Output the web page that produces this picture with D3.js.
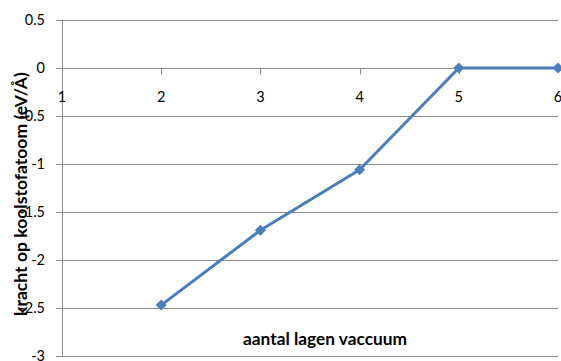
<!DOCTYPE html>
<html>
<head>
<meta charset="utf-8">
<script src="https://cdn.jsdelivr.net/npm/d3@7"></script>
<style>
  html, body { margin: 0; padding: 0; background: #fff; }
  svg { display: block; }
  text { font-family: Lato, "Open Sans", sans-serif; fill: #000; }
</style>
</head>
<body>
<svg id="chart" width="561" height="361"></svg>
<script>
// Number of vacuum layers and force per carbon atom
const layers = [2, 3, 4, 5, 6];
const force = [-2.47, -1.69, -1.06, 0, 0];
const xTicks = [1, 2, 3, 4, 5, 6];
const yTicks = [0.5, 0, -0.5, -1, -1.5, -2, -2.5, -3];
const yTickLabels = ["0.5", "0", "-0.5", "-1", "-1.5", "-2", "-2.5", "-3"];

(function drawChart() {
  const svg = d3.select("#chart");
  const plotLeft = 62, plotRight = 558, plotTop = 20, plotBottom = 356;

  const x = d3.scaleLinear().domain([1, 6]).range([plotLeft, plotRight]);
  const y = d3.scaleLinear().domain([-3, 0.5]).range([plotBottom, plotTop]);

  const grid = "#8c8c8c";
  const labelColor = "#1a1a1a";

  // Size a text element so that it spans the given width
  function fitWidth(sel, width) {
    const node = sel.node();
    const base = parseFloat(sel.attr("font-size"));
    const len = node.getComputedTextLength();
    if (len > 0) sel.attr("font-size", base * width / len);
  }

  // Horizontal gridlines with small outer ticks
  svg.append("g")
    .selectAll("line")
    .data(yTicks)
    .join("line")
    .attr("x1", plotLeft - 6).attr("x2", plotRight)
    .attr("y1", d => Math.round(y(d)) + 0.5).attr("y2", d => Math.round(y(d)) + 0.5)
    .attr("stroke", grid).attr("stroke-width", 1);

  // Vertical value axis
  svg.append("line")
    .attr("x1", plotLeft + 0.5).attr("x2", plotLeft + 0.5)
    .attr("y1", plotTop).attr("y2", plotBottom)
    .attr("stroke", grid);

  // Value axis labels
  svg.append("g")
    .selectAll("text")
    .data(yTicks)
    .join("text")
    .attr("x", plotLeft - 17)
    .attr("y", d => y(d))
    .attr("dy", "0.36em")
    .attr("text-anchor", "end")
    .attr("font-size", 14.5)
    .attr("fill", labelColor)
    .text((d, i) => yTickLabels[i]);

  // Category axis crosses at zero, with ticks hanging below
  const y0 = Math.round(y(0)) + 0.5;
  svg.append("g")
    .selectAll("line")
    .data(xTicks.filter(d => d > 1 && d < 6))
    .join("line")
    .attr("x1", d => Math.round(x(d)) + 0.5).attr("x2", d => Math.round(x(d)) + 0.5)
    .attr("y1", y0).attr("y2", y0 + 6)
    .attr("stroke", grid);

  svg.append("g")
    .selectAll("text")
    .data(xTicks)
    .join("text")
    .attr("x", d => x(d))
    .attr("y", y0 + 33)
    .attr("text-anchor", "middle")
    .attr("font-size", 14.5)
    .attr("fill", labelColor)
    .text(d => d);

  // Series line and diamond markers
  const pts = layers.map((l, i) => [l, force[i]]);
  svg.append("path")
    .datum(pts)
    .attr("fill", "none")
    .attr("stroke", "#4a7ebb")
    .attr("stroke-width", 3)
    .attr("stroke-linejoin", "round")
    .attr("d", d3.line().x(d => x(d[0])).y(d => y(d[1])));

  svg.append("g")
    .selectAll("path")
    .data(pts)
    .join("path")
    .attr("transform", d => `translate(${x(d[0])},${y(d[1])})`)
    .attr("d", "M0,-5.5L5.5,0L0,5.5L-5.5,0Z")
    .attr("fill", "#4a7ebb");

  // Axis titles
  const xTitle = svg.append("text")
    .attr("x", 325).attr("y", 345)
    .attr("text-anchor", "middle")
    .attr("font-size", 15)
    .attr("font-weight", "bold")
    .text("aantal lagen vaccuum");
  fitWidth(xTitle, 164);

  const yTitle = svg.append("text")
    .attr("transform", "translate(27,194) rotate(-90)")
    .attr("text-anchor", "middle")
    .attr("font-size", 15)
    .attr("font-weight", "bold")
    .text("kracht op koolstofatoom (eV/Å)");
  fitWidth(yTitle, 244);
})();
</script>
</body>
</html>
